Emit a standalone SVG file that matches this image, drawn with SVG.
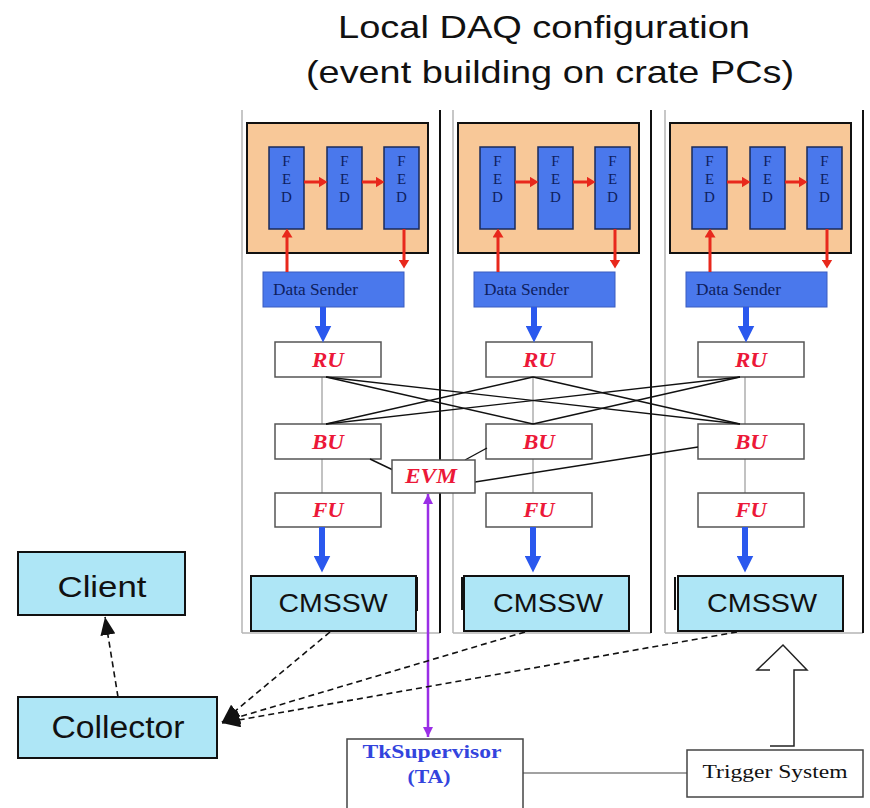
<svg xmlns="http://www.w3.org/2000/svg" xmlns:xlink="http://www.w3.org/1999/xlink" width="870" height="808" viewBox="0 0 870 808">
<style>
.bg{fill:#fff}
.crL{stroke:#b4b4b4;stroke-width:1.5;fill:none}
.crR{stroke:#111;stroke-width:2;fill:none}
.org{fill:#f8c898;stroke:#111;stroke-width:2}
.fed{fill:#4a78ec;stroke:#1a2a5a;stroke-width:1.5}
.fedt{font-family:"Liberation Serif",serif;font-size:15px;fill:#0e1e5e;text-anchor:middle}
.ds{fill:#4a78ec;stroke:#3a5cc0;stroke-width:1}
.dst{font-family:"Liberation Serif",serif;font-size:16px;fill:#0e1e5e}
.wb{fill:#fff;stroke:#555;stroke-width:1.5}
.rl{font-family:"Liberation Serif",serif;font-weight:bold;font-style:italic;font-size:22px;fill:#ec1838;text-anchor:middle}
.vl{stroke:#999;stroke-width:1.2}
.cms{fill:#aee6f6;stroke:#111;stroke-width:2}
.cmst{font-family:"Liberation Sans",Arial,sans-serif;font-size:25px;fill:#111;text-anchor:middle}
.stub{stroke:#111;stroke-width:2}
.big{font-family:"Liberation Sans",Arial,sans-serif;fill:#111;text-anchor:middle}
.red{stroke:#e8281c;stroke-width:3;fill:none;marker-end:url(#rh)}
.blue{stroke:#2a58ee;stroke-width:6;fill:none;marker-end:url(#bh)}
.cross{stroke:#111;stroke-width:1.4;fill:none}
.dash{stroke:#111;stroke-width:1.6;fill:none;stroke-dasharray:6 4;marker-end:url(#kh)}
.thin{stroke:#444;stroke-width:1.2;fill:none}
</style>
<defs>
<marker id="rh" markerUnits="userSpaceOnUse" markerWidth="9" markerHeight="11" viewBox="0 0 9 11" refX="0.5" refY="5.5" orient="auto"><path d="M0,0 L9,5.5 L0,11z" fill="#e8281c"/></marker>
<marker id="bh" markerUnits="userSpaceOnUse" markerWidth="17" markerHeight="17" viewBox="0 0 17 17" refX="0.5" refY="8.5" orient="auto"><path d="M0,0 L17,8.5 L0,17z" fill="#2a58ee"/></marker>
<marker id="kh" markerUnits="userSpaceOnUse" markerWidth="18" markerHeight="15" viewBox="0 0 18 15" refX="18" refY="7.5" orient="auto"><path d="M0,0 L18,7.5 L0,15z" fill="#111"/></marker>
<marker id="ph" markerUnits="userSpaceOnUse" markerWidth="10" markerHeight="10" viewBox="0 0 10 10" refX="10" refY="5" orient="auto-start-reverse"><path d="M0,0 L10,5 L0,10z" fill="#9a2ee6"/></marker>
<g id="crateTpl">
<line class="vl" x1="322" y1="377" x2="322" y2="493"/>
<rect class="org" x="247" y="123" width="181" height="130"/>
<rect class="fed" x="269" y="147" width="35" height="82"/>
<rect class="fed" x="327" y="147" width="35" height="82"/>
<rect class="fed" x="384" y="147" width="35" height="82"/>
<text class="fedt" x="286.5" y="166">F</text><text class="fedt" x="286.5" y="184">E</text><text class="fedt" x="286.5" y="202">D</text>
<text class="fedt" x="344.5" y="166">F</text><text class="fedt" x="344.5" y="184">E</text><text class="fedt" x="344.5" y="202">D</text>
<text class="fedt" x="401.5" y="166">F</text><text class="fedt" x="401.5" y="184">E</text><text class="fedt" x="401.5" y="202">D</text>
<rect class="ds" x="263" y="272" width="141" height="35"/>
<text class="dst" x="273" y="295" textLength="85" lengthAdjust="spacingAndGlyphs">Data Sender</text>
<rect class="wb" x="275" y="342" width="106" height="35"/>
<text class="rl" x="328" y="367" textLength="32" lengthAdjust="spacingAndGlyphs">RU</text>
<rect class="wb" x="275" y="424" width="106" height="35"/>
<text class="rl" x="328" y="449" textLength="32" lengthAdjust="spacingAndGlyphs">BU</text>
<rect class="wb" x="275" y="493" width="106" height="34"/>
<text class="rl" x="328" y="517" textLength="31" lengthAdjust="spacingAndGlyphs">FU</text>
</g>
<g id="frameTpl">
<line class="crL" x1="242" y1="110" x2="242" y2="633"/>
<line class="crL" x1="242" y1="633" x2="440" y2="633"/>
<line class="crR" x1="440" y1="110" x2="440" y2="633"/>
</g>
<g id="arrTpl">
<line class="red" x1="304" y1="182" x2="319" y2="182"/>
<line class="red" x1="362" y1="182" x2="376" y2="182"/>
<path class="red" d="M287,272 L287,237"/>
<path class="red" d="M404,229 L404,260"/>
<path class="blue" d="M323,307 L323,326"/>
<path class="blue" d="M322,527 L322,556"/>
</g>
</defs>
<rect class="bg" x="0" y="0" width="870" height="808"/>

<g id="title">
<text class="big" x="544" y="38" font-size="32" textLength="412" lengthAdjust="spacingAndGlyphs">Local DAQ configuration</text>
<text class="big" x="550" y="83" font-size="32" textLength="488" lengthAdjust="spacingAndGlyphs">(event building on crate PCs)</text>
</g>

<g id="crate1-frame"><use xlink:href="#frameTpl"/></g>
<g id="crate2-frame"><use xlink:href="#frameTpl" transform="translate(211,0)"/></g>
<g id="crate3-frame"><use xlink:href="#frameTpl" transform="translate(423,0)"/></g>

<g id="crate1"><use xlink:href="#crateTpl"/></g>
<g id="crate2"><use xlink:href="#crateTpl" transform="translate(211,0)"/></g>
<g id="crate3"><use xlink:href="#crateTpl" transform="translate(423,0)"/></g>

<g id="cmssw1">
<rect class="cms" x="251" y="576" width="165" height="55"/>
<line class="stub" x1="417" y1="577" x2="417" y2="611"/>
<text class="cmst" x="333" y="612" textLength="109" lengthAdjust="spacingAndGlyphs">CMSSW</text>
</g>
<g id="cmssw2">
<rect class="cms" x="464" y="576" width="165" height="55"/>
<line class="stub" x1="462" y1="577" x2="462" y2="610"/>
<text class="cmst" x="548" y="612" textLength="110" lengthAdjust="spacingAndGlyphs">CMSSW</text>
</g>
<g id="cmssw3">
<rect class="cms" x="678" y="576" width="165" height="55"/>
<line class="stub" x1="675" y1="577" x2="675" y2="610"/>
<text class="cmst" x="762" y="612" textLength="110" lengthAdjust="spacingAndGlyphs">CMSSW</text>
</g>

<g id="connectors">
<use xlink:href="#arrTpl"/>
<use xlink:href="#arrTpl" transform="translate(211,0)"/>
<use xlink:href="#arrTpl" transform="translate(423,0)"/>
<line class="cross" x1="326" y1="377" x2="533" y2="424"/>
<line class="cross" x1="326" y1="377" x2="740" y2="424"/>
<line class="cross" x1="533" y1="377" x2="326" y2="424"/>
<line class="cross" x1="533" y1="377" x2="740" y2="424"/>
<line class="cross" x1="740" y1="377" x2="326" y2="424"/>
<line class="cross" x1="740" y1="377" x2="533" y2="424"/>
<line class="cross" x1="370" y1="459" x2="393" y2="470"/>
<line class="cross" x1="487" y1="448" x2="465" y2="460"/>
<line class="cross" x1="475" y1="482" x2="698" y2="447"/>
<line stroke="#9a2ee6" stroke-width="2.5" x1="428" y1="494" x2="428" y2="737" marker-start="url(#ph)" marker-end="url(#ph)"/>
<line class="dash" x1="330" y1="632" x2="222" y2="722"/>
<line class="dash" x1="525" y1="632" x2="222" y2="722"/>
<line class="dash" x1="737" y1="632" x2="222" y2="723"/>
<line class="dash" x1="118" y1="697" x2="105" y2="617"/>
<line class="thin" x1="523" y1="773" x2="687" y2="773"/>
<path d="M770,746 L794,746 L794,670 L807,670 L783,645 L757,670 L770,670" fill="none" stroke="#222" stroke-width="1.5"/>
</g>

<g id="evm">
<rect class="wb" x="392" y="460" width="83" height="33"/>
<text class="rl" x="431" y="483" textLength="52" lengthAdjust="spacingAndGlyphs">EVM</text>
</g>

<g id="client">
<rect class="cms" x="18" y="552" width="167" height="63"/>
<text class="big" x="102" y="597" font-size="30" textLength="89" lengthAdjust="spacingAndGlyphs">Client</text>
</g>
<g id="collector">
<rect class="cms" x="18" y="697" width="199" height="61"/>
<text class="big" x="118" y="738" font-size="31" textLength="133" lengthAdjust="spacingAndGlyphs">Collector</text>
</g>

<g id="tksupervisor">
<rect x="347" y="739" width="176" height="80" fill="#fff" stroke="#444" stroke-width="1.5"/>
<text x="432" y="758" font-family="Liberation Serif,serif" font-weight="bold" font-size="18" fill="#3344dd" text-anchor="middle" textLength="139" lengthAdjust="spacingAndGlyphs">TkSupervisor</text>
<text x="429" y="783" font-family="Liberation Serif,serif" font-weight="bold" font-size="18" fill="#3344dd" text-anchor="middle" textLength="43" lengthAdjust="spacingAndGlyphs">(TA)</text>
</g>

<g id="trigger">
<rect x="687" y="750" width="176" height="47" fill="#fff" stroke="#444" stroke-width="1.5"/>
<text x="775" y="778" font-family="Liberation Serif,serif" font-size="19" fill="#111" text-anchor="middle" textLength="145" lengthAdjust="spacingAndGlyphs">Trigger System</text>
</g>
</svg>
